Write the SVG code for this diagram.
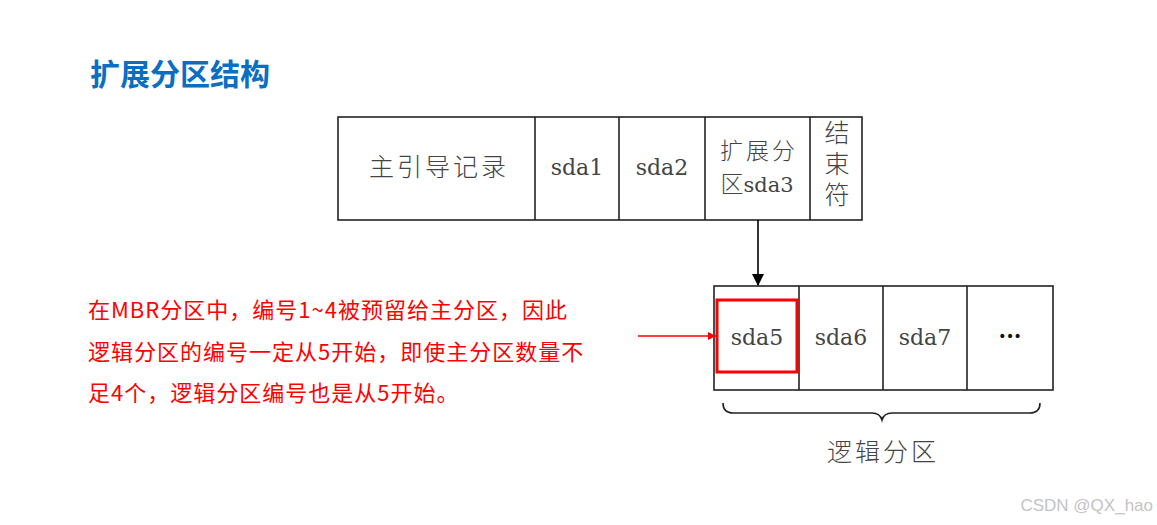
<svg xmlns="http://www.w3.org/2000/svg" width="1157" height="525" viewBox="0 0 1157 525">
<style>
.box{fill:#fff;stroke:#222;stroke-width:1.6}
.div{stroke:#222;stroke-width:1.6}
.lbl{font-family:"DejaVu Serif","Liberation Serif",serif;font-size:22px;fill:#444;text-anchor:middle}
.cjk{font-family:"Noto Sans CJK SC",sans-serif;font-size:25px;fill:#444;text-anchor:middle;font-weight:300;letter-spacing:3px}
.note{font-family:"Noto Sans CJK SC","Liberation Sans",sans-serif;font-size:22px;fill:#f00;letter-spacing:1px}
</style>
<defs>
<marker id="ab" markerWidth="12" markerHeight="12" refX="11" refY="6" orient="auto" markerUnits="userSpaceOnUse">
<path d="M0,0 L12,6 L0,12 Z" fill="#000"/>
</marker>
<marker id="ar" markerWidth="8" markerHeight="8" refX="8" refY="4" orient="auto" markerUnits="userSpaceOnUse">
<path d="M0,0 L8,4 L0,8 Z" fill="#f00"/>
</marker>
</defs>
<rect width="1157" height="525" fill="#fff"/>
<text id="title" x="90" y="85" font-family="Noto Sans CJK SC,sans-serif" font-weight="bold" font-size="30" fill="#0a6fc2">扩展分区结构</text>

<g id="mbr">
<rect class="box" x="338" y="117" width="524" height="103"/>
<line class="div" x1="535" y1="117" x2="535" y2="220"/>
<line class="div" x1="619" y1="117" x2="619" y2="220"/>
<line class="div" x1="705" y1="117" x2="705" y2="220"/>
<line class="div" x1="810" y1="117" x2="810" y2="220"/>
<text class="cjk" x="439" y="176">主引导记录</text>
<text class="lbl" x="577" y="175">sda1</text>
<text class="lbl" x="662" y="175">sda2</text>
<text class="cjk" x="759" y="159" font-size="23" style="font-size:23px">扩展分</text>
<text x="757" y="192" font-size="21" fill="#444" text-anchor="middle"><tspan font-family="Noto Sans CJK SC,sans-serif" font-size="23" font-weight="300">区</tspan><tspan font-family="DejaVu Serif,serif">sda3</tspan></text>
<text x="837" y="166" font-family="Noto Sans CJK SC,sans-serif" font-size="25" font-weight="300" fill="#444" text-anchor="middle" style="writing-mode:vertical-rl;letter-spacing:6px">结束符</text>
</g>

<g id="logical">
<rect class="box" x="714" y="286" width="339" height="104"/>
<line class="div" x1="799" y1="286" x2="799" y2="390"/>
<line class="div" x1="883" y1="286" x2="883" y2="390"/>
<line class="div" x1="967" y1="286" x2="967" y2="390"/>
<rect x="717" y="300" width="80" height="72" fill="none" stroke="#f00" stroke-width="3"/>
<text class="lbl" x="757" y="345">sda5</text>
<text class="lbl" x="841" y="345">sda6</text>
<text class="lbl" x="925" y="345">sda7</text>
<text class="lbl" x="1010" y="344" font-weight="bold" fill="#111" style="font-weight:bold;fill:#111">···</text>
</g>

<g id="brace">
<path d="M723,403 Q723,413 733,413 L872,413 Q880,413 882,420 Q884,413 892,413 L1030,413 Q1040,413 1040,403" fill="none" stroke="#222" stroke-width="1.6"/>
<text class="cjk" x="883" y="461">逻辑分区</text>
</g>

<g id="note">
<text class="note" x="88" y="318">在MBR分区中，编号1~4被预留给主分区，因此</text>
<text class="note" x="88" y="360">逻辑分区的编号一定从5开始，即使主分区数量不</text>
<text class="note" x="88" y="401">足4个，逻辑分区编号也是从5开始。</text>
</g>

<g id="connectors">
<line x1="758" y1="220" x2="758" y2="285" stroke="#000" stroke-width="1.6" marker-end="url(#ab)"/>
<line x1="638" y1="336" x2="716" y2="336" stroke="#f00" stroke-width="1.5" marker-end="url(#ar)"/>
</g>

<text x="1153" y="511" text-anchor="end" font-family="Liberation Sans,sans-serif" font-size="17" fill="#c4c4c4">CSDN @QX_hao</text>
</svg>
